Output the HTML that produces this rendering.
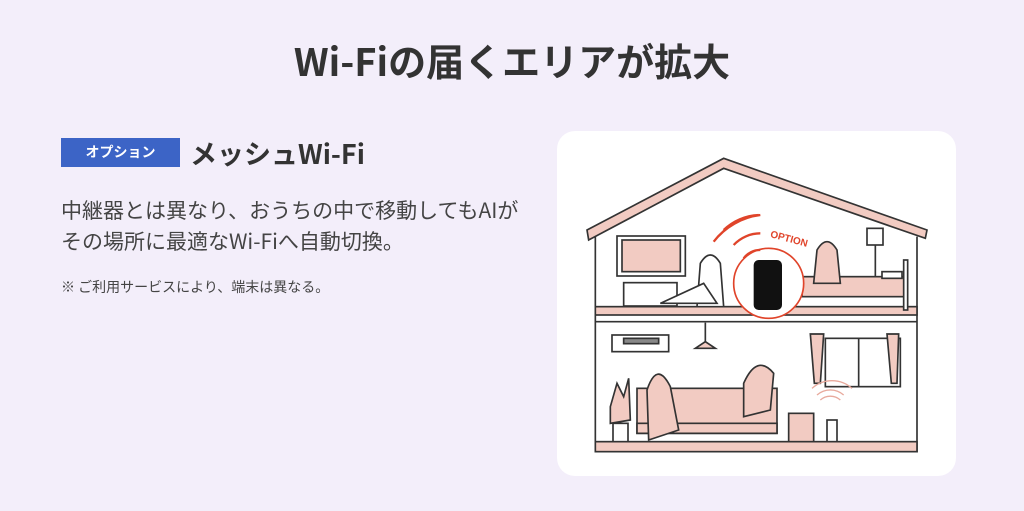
<!DOCTYPE html>
<html><head><meta charset="utf-8"><style>
*{margin:0;padding:0;box-sizing:border-box}
body{width:1024px;height:511px;background:#f3eefa;position:relative;overflow:hidden;font-family:"Noto Sans CJK JP","Liberation Sans",sans-serif;color:#333}
.t{position:absolute;left:0;width:1024px;top:33px;text-align:center;font-size:38px;font-weight:bold;line-height:54px;color:#333}
.lab{position:absolute;left:61px;top:138px;width:119px;height:29px;background:#3c64c6;color:#fff;font-size:14px;font-weight:bold;text-align:center;line-height:29px}
.h{position:absolute;left:190px;top:133px;font-size:27px;font-weight:bold;line-height:40px;color:#333}
.p{position:absolute;left:61px;top:195px;font-size:21px;line-height:31px;color:#444;white-space:nowrap}
.n{position:absolute;left:61px;top:277px;font-size:14px;line-height:20px;color:#444}
.card{position:absolute;left:557px;top:131px;width:399px;height:345px;background:#fff;border-radius:18px}
svg{position:absolute;left:557px;top:130px}
</style></head><body>
<div class="t">Wi-Fiの届くエリアが拡大</div>
<div class="lab">オプション</div>
<div class="h">メッシュWi-Fi</div>
<div class="p">中継器とは異なり、おうちの中で移動してもAIが<br>その場所に最適なWi-Fiへ自動切換。</div>
<div class="n">※ ご利用サービスにより、端末は異なる。</div>
<div class="card"></div>
<svg width="400" height="350" viewBox="0 0 1200 1050">
<g stroke="#333" stroke-width="5" fill="#f2cbc2">
<polygon points="90,300 500,85 1110,300 1105,325 500,115 95,330"/>
<polyline points="115,320 115,965 1080,965 1080,320" fill="none"/>
<rect x="115" y="530" width="965" height="25"/>
<line x1="115" y1="575" x2="1080" y2="575"/>
<rect x="115" y="935" width="965" height="30"/>
<rect x="180" y="318" width="205" height="120" fill="#fff"/>
<rect x="195" y="330" width="175" height="95"/>
<rect x="200" y="458" width="160" height="70" fill="#fff"/>
<rect x="735" y="440" width="310" height="60"/>
<rect x="975" y="425" width="60" height="20" fill="#fff"/>
<rect x="1040" y="390" width="12" height="150" fill="#fff"/>
<line x1="955" y1="345" x2="955" y2="440"/>
<rect x="930" y="295" width="48" height="50" fill="#fff"/>
<rect x="165" y="615" width="170" height="50" fill="#fff"/>
<rect x="200" y="625" width="105" height="16" fill="#888"/>
<line x1="445" y1="578" x2="445" y2="640"/>
<polygon points="415,655 445,635 475,655"/>
<rect x="805" y="625" width="225" height="145" fill="#fff"/>
<line x1="905" y1="625" x2="905" y2="770"/>
<polygon points="760,612 800,612 790,760 772,760"/>
<polygon points="990,612 1025,612 1020,760 1003,760"/>
<rect x="240" y="775" width="420" height="135"/>
<rect x="240" y="880" width="420" height="30"/>
<polygon points="160,830 180,760 200,800 215,745 220,870 160,880"/>
<rect x="168" y="880" width="45" height="55" fill="#fff"/>
<rect x="695" y="850" width="75" height="85"/>
<rect x="810" y="870" width="30" height="65" fill="#fff"/>
<path d="M270,780 q30,-90 70,-10 l25,130 -90,30 z"/>
<path d="M560,760 q40,-90 90,-30 l-10,110 -80,20 z"/>
<path d="M430,400 q30,-50 60,0 l10,130 -80,0 z" fill="#fff"/>
<path d="M310,520 l130,-60 40,60z" fill="#fff"/>
<path d="M780,360 q30,-50 60,0 l10,100 -80,0 z"/>
</g>
<circle cx="635" cy="460" r="105" fill="#fff" stroke="#e0442a" stroke-width="5"/>
<rect x="590" y="390" width="85" height="150" rx="15" fill="#111"/>
<g fill="none" stroke="#e0442a" stroke-width="7">
<path d="M560,385 a60,60 0 0 1 50,-25"/>
<path d="M530,345 a110,110 0 0 1 80,-35"/>
<path d="M500,300 a160,160 0 0 1 105,-45"/>
<path d="M470,335 a210,210 0 0 1 140,-80"/>
</g>
<text x="635" y="335" font-family="Liberation Sans,sans-serif" font-weight="bold" font-size="30" fill="#e0442a" transform="rotate(15 690 340)">OPTION</text>
<g fill="none" stroke="#e8a99c" stroke-width="4">
<path d="M790,810 a45,45 0 0 1 60,0"/><path d="M780,795 a60,60 0 0 1 80,0"/><path d="M765,775 a90,90 0 0 1 120,0"/>
</g>
</svg>
</body></html>
